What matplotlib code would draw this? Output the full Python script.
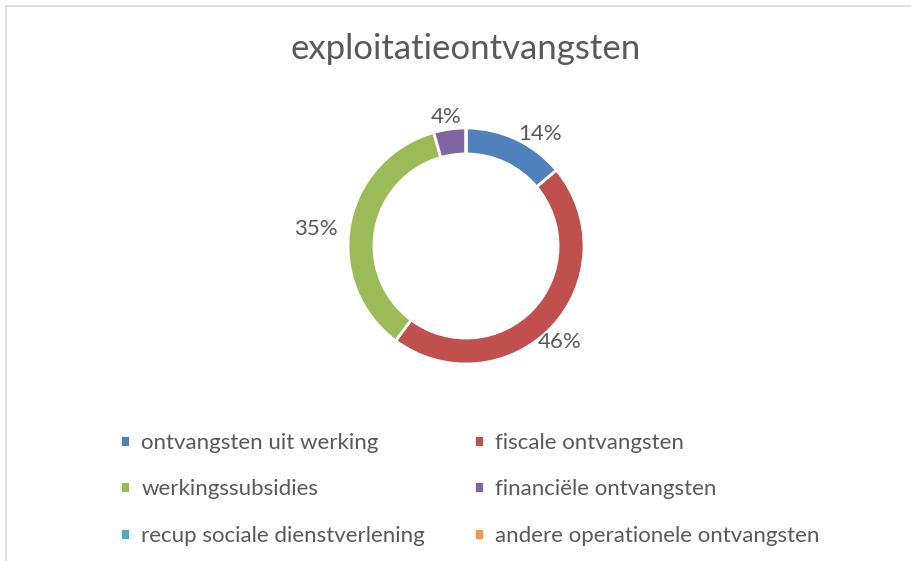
import numpy as np
import matplotlib
matplotlib.use("Agg")
from matplotlib import pyplot as plt
from matplotlib.patches import Rectangle

plt.rcParams['font.family'] = ['Lato', 'DejaVu Sans']

categories = ['ontvangsten uit werking', 'fiscale ontvangsten', 'werkingssubsidies',
              'financiële ontvangsten', 'recup sociale dienstverlening',
              'andere operationele ontvangsten']
values = [13.9, 46.2, 35.4, 4.4, 0.0, 0.0]
colors = ['#4F81BD', '#C0504D', '#9BBB59', '#8064A2', '#4BACC6', '#F79646']
title = 'exploitatieontvangsten'
text_col = '#595959'

# data labels were dragged a bit off the slice middles in the original
label_angle_shift = [-8.5, -2.6, 4.0, 0.8, 0, 0]
label_dist = [1.135, 1.135, 1.28, 1.11, 1.1, 1.1]

W, H = 911, 561
fig = plt.figure(figsize=(W / 100, H / 100), dpi=100)

# chart area border (cut off at right and bottom like the screenshot)
fig.patches.append(Rectangle((6 / W, -0.1), 1.2, 1 - 6 / H + 0.1, transform=fig.transFigure,
                             fill=False, edgecolor='#D9D9D9', linewidth=1.2))

cx, cy, r = 466, 246, 118
ax = fig.add_axes([(cx - r) / W, (H - cy - r) / H, 2 * r / W, 2 * r / H])


def pct(p):
    return '' if p < 0.5 else '%d%%' % round(p)


wedges, texts, autotexts = ax.pie(values, colors=colors, startangle=90, counterclock=False,
                                  autopct=pct, pctdistance=1.15,
                                  wedgeprops=dict(width=0.22, edgecolor='white', linewidth=2),
                                  textprops=dict(color=text_col, fontsize=16))
for i, (w, t) in enumerate(zip(wedges, autotexts)):
    if not t.get_text():
        continue
    ang = np.deg2rad((w.theta1 + w.theta2) / 2 + label_angle_shift[i])
    t.set_position((label_dist[i] * np.cos(ang), label_dist[i] * np.sin(ang)))
ax.set_xlim(-1, 1)
ax.set_ylim(-1, 1)
ax.axis('off')

fig.text(cx / W, 1 - 49 / H, title, ha='center', va='center', fontsize=25, color=text_col)

# legend filled row by row (matplotlib fills columns first)
order = [0, 2, 4, 1, 3, 5]
leg = fig.legend([wedges[i] for i in order], [categories[i] for i in order], ncol=2,
                 loc='upper left', bbox_to_anchor=(109 / W, 1 - 422 / H), borderpad=0,
                 frameon=False, fontsize=16, labelcolor=text_col, handlelength=0.45, handleheight=0.45,
                 handletextpad=0.5, columnspacing=2.2, labelspacing=1.18)

fig.savefig('out.png', dpi=100)
